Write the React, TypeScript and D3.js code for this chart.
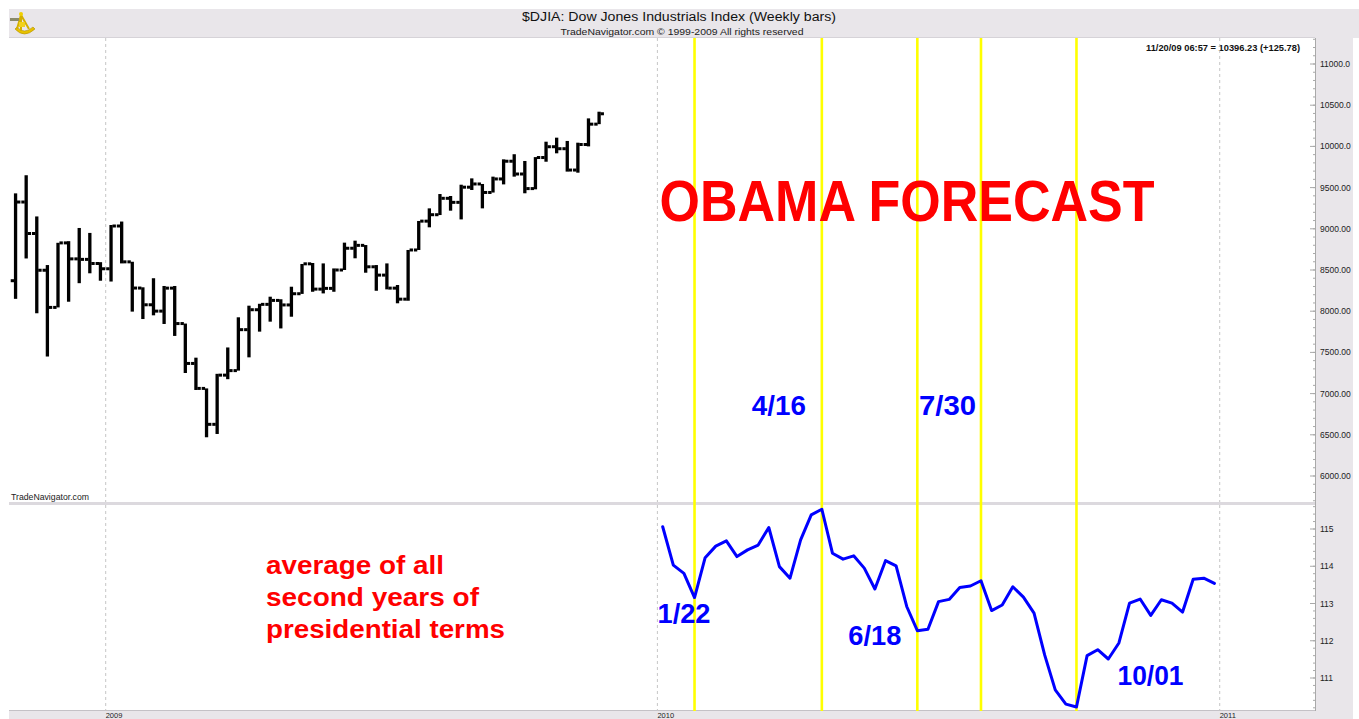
import React from "react";
import * as d3 from "d3";

// ---------- DATA ----------
const barDates = [
  "2008-10-31", "2008-11-07", "2008-11-14", "2008-11-21", "2008-11-28", "2008-12-05", "2008-12-12",
  "2008-12-19", "2008-12-26", "2009-01-02", "2009-01-09", "2009-01-16", "2009-01-23", "2009-01-30",
  "2009-02-06", "2009-02-13", "2009-02-20", "2009-02-27", "2009-03-06", "2009-03-13", "2009-03-20",
  "2009-03-27", "2009-04-03", "2009-04-10", "2009-04-17", "2009-04-24", "2009-05-01", "2009-05-08",
  "2009-05-15", "2009-05-22", "2009-05-29", "2009-06-05", "2009-06-12", "2009-06-19", "2009-06-26",
  "2009-07-03", "2009-07-10", "2009-07-17", "2009-07-24", "2009-07-31", "2009-08-07", "2009-08-14",
  "2009-08-21", "2009-08-28", "2009-09-04", "2009-09-11", "2009-09-18", "2009-09-25", "2009-10-02",
  "2009-10-09", "2009-10-16", "2009-10-23", "2009-10-30", "2009-11-06", "2009-11-13", "2009-11-20",
];
const barOpen = [
  8370, 9325, 8943, 8497, 8046, 8829, 8635, 8629, 8579, 8515, 9034, 8599, 8281, 8078,
  8001, 8280, 7850, 7366, 7063, 6627, 7224, 7279, 7776, 8018, 8083, 8131, 8076, 8212,
  8575, 8268, 8277, 8500, 8764, 8799, 8539, 8438, 8280, 8146, 8743, 9093, 9171, 9370,
  9321, 9505, 9544, 9441, 9605, 9820, 9665, 9488, 9865, 9996, 9972, 9713, 10023, 10270,
];
const barHigh = [
  9430, 9650, 9150, 8560, 8830, 8850, 9010, 8950, 8595, 9046, 9088, 8600, 8290, 8400,
  8306, 8306, 7850, 7436, 7063, 7240, 7560, 7926, 8067, 8090, 8176, 8145, 8297, 8573,
  8585, 8580, 8519, 8832, 8856, 8803, 8560, 8580, 8318, 8743, 9095, 9248, 9422, 9398,
  9535, 9612, 9544, 9633, 9843, 9905, 9823, 9870, 10057, 10106, 10066, 10045, 10340, 10421,
];
const barLow = [
  8150, 8640, 7975, 7450, 8046, 8115, 8340, 8460, 8370, 8360, 8580, 7995, 7905, 7950,
  7845, 7700, 7250, 7044, 6470, 6510, 7175, 7279, 7440, 7752, 7873, 7791, 7933, 8210,
  8236, 8216, 8236, 8500, 8642, 8467, 8248, 8265, 8096, 8127, 8743, 9018, 9167, 9220,
  9114, 9471, 9248, 9440, 9539, 9633, 9431, 9479, 9814, 9916, 9694, 9681, 10000, 10270,
];
const barClose = [
  9325, 8943, 8497, 8046, 8829, 8635, 8629, 8579, 8515, 9034, 8599, 8281, 8078, 8001,
  8280, 7850, 7366, 7063, 6627, 7224, 7279, 7776, 8018, 8083, 8131, 8076, 8212, 8575,
  8268, 8277, 8500, 8764, 8799, 8539, 8438, 8280, 8146, 8743, 9093, 9171, 9370, 9321,
  9505, 9544, 9441, 9605, 9820, 9665, 9488, 9865, 9996, 9972, 9713, 10023, 10270, 10396,
];

const forecastValues = [
  115.06, 114.03, 113.81, 113.16, 114.23, 114.54, 114.68, 114.26, 114.44, 114.57,
  115.04, 113.99, 113.68, 114.71, 115.38, 115.53, 114.35, 114.19, 114.28, 113.95,
  113.39, 114.15, 114.01, 112.92, 112.27, 112.31, 113.05, 113.11, 113.43, 113.47,
  113.61, 112.81, 112.96, 113.45, 113.17, 112.74, 111.62, 110.68, 110.30, 110.22,
  111.60, 111.76, 111.51, 111.94, 113.01, 113.12, 112.68, 113.10, 113.01, 112.77,
  113.65, 113.68, 113.54,
];

const markerDates = ["2010-01-22", "2010-04-16", "2010-06-18", "2010-07-30", "2010-10-01"];

const priceTicks = [6000, 6500, 7000, 7500, 8000, 8500, 9000, 9500, 10000, 10500, 11000];
const priceTickLabels = [
  "6000.00", "6500.00", "7000.00", "7500.00", "8000.00", "8500.00",
  "9000.00", "9500.00", "10000.0", "10500.0", "11000.0",
];
const indexTicks = [111, 112, 113, 114, 115];
const indexTickLabels = ["111", "112", "113", "114", "115"];
const years = [2009, 2010, 2011];

const titleText = "$DJIA:  Dow Jones Industrials Index  (Weekly bars)";
const subtitleText = "TradeNavigator.com \u00A9 1999-2009 All rights reserved";
const quoteText = "11/20/09 06:57 = 10396.23 (+125.78)";
const headline = "OBAMA FORECAST";
const noteLines = ["average of all", "second years of", "presidential terms"];

// ---------- LAYOUT ----------
const W = 1359;
const H = 719;
const plotL = 9;
const plotR = 1315;
const topT = 38;
const topB = 502;
const botT = 505;
const botB = 711;
const FONT = "Arial, 'Liberation Sans', Helvetica, sans-serif";
const NARROW = "'Liberation Sans Narrow', 'Arial Narrow', Arial, 'Liberation Sans', sans-serif";

const parse = d3.timeParse("%Y-%m-%d");

export default function App() {
  const x = d3
    .scaleTime()
    .domain([parse("2009-01-02")!, parse("2010-12-31")!])
    .range([111, 1214.4]);
  const yP = d3.scaleLinear().domain([6000, 11000]).range([476, 64]);
  const yI = d3.scaleLinear().domain([111, 115]).range([678, 529]);

  const bars = barDates.map((d, i) => ({
    date: parse(d)!,
    o: barOpen[i],
    h: barHigh[i],
    l: barLow[i],
    c: barClose[i],
  }));

  const fDates = d3.timeFriday.range(parse("2010-01-01")!, parse("2011-01-01")!);
  const forecast = forecastValues.map((v, i) => ({ date: fDates[i], v }));
  const line = d3
    .line<{ date: Date; v: number }>()
    .x((d) => x(d.date))
    .y((d) => yI(d.v));

  const yearX = years.map((y) => {
    const firstBar = d3.timeFriday.ceil(new Date(y, 0, 1));
    return x(d3.timeHour.offset(firstBar, -84));
  });

  // minor ticks
  const pMin = yP.invert(topB);
  const pMax = yP.invert(topT);
  const priceMinor = d3.range(Math.ceil(pMin / 100) * 100, pMax, 100);
  const iMin = yI.invert(botB);
  const iMax = yI.invert(botT);
  const indexMinor = d3.range(Math.ceil(iMin * 5) / 5, iMax, 0.2);

  const gray = "#e9e6ea";
  const axisCol = "#a9a9a9";

  const markerX = markerDates.map((d) => x(parse(d)!));

  return (
    <svg
      width={W}
      height={H}
      style={{ position: "absolute", left: 0, top: 0, display: "block" }}
    >
      <rect x={0} y={0} width={W} height={H} fill="#ffffff" />
      {/* frame */}
      <rect x={plotL} y={9} width={W - plotL} height={topT - 9} fill={gray} />
      <rect x={plotR} y={topT} width={1353 - plotR} height={H - topT} fill={gray} />
      <rect x={plotL} y={botB} width={1353 - plotL} height={H - botB} fill={gray} />
      <line x1={plotL} x2={plotR} y1={topT - 0.5} y2={topT - 0.5} stroke="#d6d3d8" />
      <rect x={plotL} y={topB} width={plotR - plotL} height={botT - topB} fill="#dcd9de" />
      <line x1={plotL} x2={plotR} y1={botB - 0.5} y2={botB - 0.5} stroke="#c4c1c6" />

      {/* icon */}
      <g transform="translate(9,9)">
        <path d="M6,20 Q15,30 26,20 L24,18 Q15,26 8,18 Z" fill="#e8c200" stroke="#b08e00" strokeWidth={0.6} />
        <path d="M12,6 L20,20 M12,6 L8,20 M12,4 L12,22" stroke="#d4b000" strokeWidth={2} fill="none" />
        <rect x={1} y={9} width={9} height={3} fill="#8a8a6a" />
        <circle cx={12} cy={5} r={2} fill="#f0d000" />
        <rect x={10} y={13} width={6} height={5} fill="#f2d21a" />
      </g>

      {/* header texts */}
      <text x={679} y={21} textAnchor="middle" fontFamily={NARROW} fontSize={12.5} fill="#111" textLength={314} lengthAdjust="spacingAndGlyphs">
        {titleText}
      </text>
      <text x={682} y={35} textAnchor="middle" fontFamily={NARROW} fontSize={9.5} fill="#222" textLength={243} lengthAdjust="spacingAndGlyphs">
        {subtitleText}
      </text>
      <text x={1300} y={51} textAnchor="end" fontFamily={NARROW} fontSize={8.5} fontWeight="bold" fill="#111" textLength={154} lengthAdjust="spacingAndGlyphs">
        {quoteText}
      </text>
      <text x={11} y={500} fontFamily={NARROW} fontSize={8.5} fill="#222" textLength={78} lengthAdjust="spacingAndGlyphs">
        TradeNavigator.com
      </text>

      {/* year gridlines */}
      {yearX.map((xx, i) => (
        <g key={i}>
          <line x1={xx} x2={xx} y1={topT} y2={topB} stroke="#c6c6c6" strokeDasharray="3,3" />
          <line x1={xx} x2={xx} y1={botT} y2={botB} stroke="#c6c6c6" strokeDasharray="3,3" />
          <text x={xx} y={718} fontFamily={FONT} fontSize={7.5} fill="#222">
            {years[i]}
          </text>
        </g>
      ))}

      {/* yellow marker lines */}
      {markerX.map((mx, i) => (
        <line key={i} x1={mx} x2={mx} y1={topT} y2={botB} stroke="#ffff00" strokeWidth={2.6} />
      ))}

      {/* price bars */}
      {bars.map((b, i) => {
        const bx = x(b.date);
        return (
          <g key={i} fill="#000">
            <rect x={bx - 1.6} y={yP(b.h)} width={3.3} height={Math.max(2, yP(b.l) - yP(b.h))} />
            <rect x={bx - 4.8} y={yP(b.o) - 1.5} width={3.4} height={3} />
            <rect x={bx + 1.5} y={yP(b.c) - 1.5} width={3.4} height={3} />
          </g>
        );
      })}

      {/* forecast line */}
      <path d={line(forecast) || ""} fill="none" stroke="#0000ff" strokeWidth={3} strokeLinejoin="round" strokeLinecap="round" />

      {/* annotations */}
      <text x={907} y={221} textAnchor="middle" fontFamily={FONT} fontWeight="bold" fontSize={58} fill="#ff0000" textLength={495} lengthAdjust="spacingAndGlyphs">
        {headline}
      </text>
      <text x={markerX[1] - 70} y={415} fontFamily={FONT} fontWeight="bold" fontSize={28} fill="#0000ff" textLength={54} lengthAdjust="spacingAndGlyphs">4/16</text>
      <text x={markerX[3] - 62} y={415} fontFamily={FONT} fontWeight="bold" fontSize={28} fill="#0000ff" textLength={57} lengthAdjust="spacingAndGlyphs">7/30</text>
      <text x={markerX[0] - 37} y={623} fontFamily={FONT} fontWeight="bold" fontSize={28} fill="#0000ff" textLength={53} lengthAdjust="spacingAndGlyphs">1/22</text>
      <text x={markerX[2] - 69} y={645} fontFamily={FONT} fontWeight="bold" fontSize={27} fill="#0000ff" textLength={53} lengthAdjust="spacingAndGlyphs">6/18</text>
      <text x={markerX[4] + 41} y={685} fontFamily={FONT} fontWeight="bold" fontSize={27} fill="#0000ff" textLength={66} lengthAdjust="spacingAndGlyphs">10/01</text>

      {noteLines.map((t, i) => (
        <text key={i} x={266} y={574 + i * 32} fontFamily={FONT} fontWeight="bold" fontSize={26} fill="#ff0000" textLength={[178, 213, 239][i]} lengthAdjust="spacingAndGlyphs">
          {t}
        </text>
      ))}

      {/* right axis */}
      <line x1={plotR + 0.5} x2={plotR + 0.5} y1={topT} y2={botB} stroke={axisCol} />
      {priceMinor.map((v) => (
        <line key={"pm" + v} x1={plotR - 2} x2={plotR} y1={yP(v)} y2={yP(v)} stroke={axisCol} />
      ))}
      {priceTicks.map((v, i) => (
        <g key={"pt" + v}>
          <line x1={plotR - 5} x2={plotR} y1={yP(v)} y2={yP(v)} stroke={axisCol} />
          <text x={plotR + 5} y={yP(v) + 3} fontFamily={FONT} fontSize={8.5} fill="#222">
            {priceTickLabels[i]}
          </text>
        </g>
      ))}
      {indexMinor.map((v, i) => (
        <line key={"im" + i} x1={plotR - 2} x2={plotR} y1={yI(v)} y2={yI(v)} stroke={axisCol} />
      ))}
      {indexTicks.map((v, i) => (
        <g key={"it" + v}>
          <line x1={plotR - 5} x2={plotR} y1={yI(v)} y2={yI(v)} stroke={axisCol} />
          <text x={plotR + 5} y={yI(v) + 3} fontFamily={FONT} fontSize={8.5} fill="#222">
            {indexTickLabels[i]}
          </text>
        </g>
      ))}
    </svg>
  );
}
